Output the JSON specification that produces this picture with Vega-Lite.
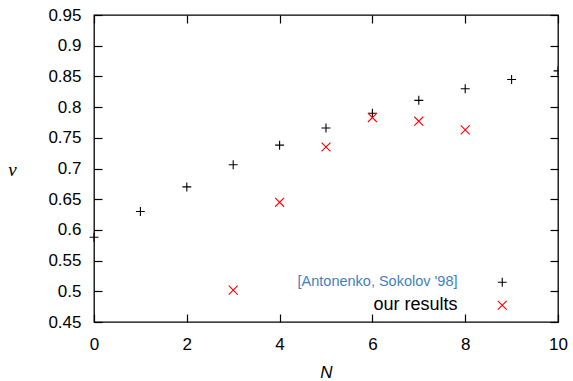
{
  "$schema": "https://vega.github.io/schema/vega-lite/v6.json",
  "width": 464,
  "height": 307,
  "autosize": {"type": "none"},
  "padding": {"left": 94, "top": 15, "right": 15, "bottom": 59},
  "background": "white",
  "config": {
    "view": {"stroke": "black", "strokeWidth": 1.3},
    "font": "Liberation Sans",
    "axis": {"grid": false}
  },
  "data": {
    "values": [
      {"N": 0, "nu": 0.588, "series": "[Antonenko, Sokolov '98]"},
      {"N": 1, "nu": 0.630, "series": "[Antonenko, Sokolov '98]"},
      {"N": 2, "nu": 0.670, "series": "[Antonenko, Sokolov '98]"},
      {"N": 3, "nu": 0.706, "series": "[Antonenko, Sokolov '98]"},
      {"N": 4, "nu": 0.738, "series": "[Antonenko, Sokolov '98]"},
      {"N": 5, "nu": 0.766, "series": "[Antonenko, Sokolov '98]"},
      {"N": 6, "nu": 0.790, "series": "[Antonenko, Sokolov '98]"},
      {"N": 7, "nu": 0.811, "series": "[Antonenko, Sokolov '98]"},
      {"N": 8, "nu": 0.830, "series": "[Antonenko, Sokolov '98]"},
      {"N": 9, "nu": 0.845, "series": "[Antonenko, Sokolov '98]"},
      {"N": 10, "nu": 0.859, "series": "[Antonenko, Sokolov '98]"},
      {"N": 3, "nu": 0.502, "series": "our results"},
      {"N": 4, "nu": 0.645, "series": "our results"},
      {"N": 5, "nu": 0.735, "series": "our results"},
      {"N": 6, "nu": 0.783, "series": "our results"},
      {"N": 7, "nu": 0.777, "series": "our results"},
      {"N": 8, "nu": 0.763, "series": "our results"}
    ]
  },
  "encoding": {
    "x": {"field": "N", "type": "quantitative", "scale": {"domain": [0, 10], "nice": false, "zero": false}},
    "y": {"field": "nu", "type": "quantitative", "scale": {"domain": [0.45, 0.95], "nice": false, "zero": false}}
  },
  "layer": [
    {
      "transform": [{"filter": "datum.N < 10"}],
      "mark": {"type": "point", "filled": false, "strokeWidth": 1.1, "size": 80, "opacity": 1, "clip": false},
      "encoding": {
        "x": {
          "field": "N", "type": "quantitative",
          "axis": {
            "values": [0, 2, 4, 6, 8, 10], "format": "d",
            "labelFontSize": 17, "labelColor": "black", "labelFont": "Liberation Sans",
            "labelFlush": false, "labelDx": 3,
            "tickSize": -8, "tickColor": "black", "tickWidth": 1.2, "domain": false,
            "labelPadding": 22,
            "title": "N", "titleFont": "Liberation Sans", "titleFontStyle": "italic",
            "titleFontWeight": "normal", "titleFontSize": 17, "titleColor": "black",
            "titleY": 50, "titleBaseline": "middle"
          }
        },
        "y": {
          "field": "nu", "type": "quantitative",
          "axis": {
            "values": [0.45, 0.5, 0.55, 0.6, 0.65, 0.7, 0.75, 0.8, 0.85, 0.9, 0.95],
            "format": ".2~f",
            "labelFontSize": 17, "labelColor": "black", "labelFont": "Liberation Sans",
            "labelFlush": false,
            "tickSize": -8, "tickColor": "black", "tickWidth": 1.2, "domain": false,
            "labelPadding": 21,
            "title": "ν", "titleFont": "Liberation Serif", "titleFontStyle": "italic",
            "titleFontWeight": "normal", "titleFontSize": 19, "titleColor": "black",
            "titleAngle": 0, "titleX": -82, "titleY": 154, "titleAlign": "center", "titleBaseline": "middle"
          }
        },
        "color": {
          "field": "series", "type": "nominal",
          "scale": {"domain": ["[Antonenko, Sokolov '98]", "our results"], "range": ["black", "#ff0000"]},
          "legend": {
            "title": null, "orient": "none", "legendX": 401, "legendY": 260,
            "direction": "vertical", "symbolSize": 80, "symbolStrokeWidth": 1.1,
            "labelAlign": "right", "labelOffset": -52,
            "labelFontSize": {"expr": "datum.value === 'our results' ? 18 : 14.5"},
            "labelColor": {"expr": "datum.value === 'our results' ? 'black' : '#3f7fbf'"},
            "labelFont": "Liberation Sans", "rowPadding": 7, "padding": 0,
            "labelLimit": 300
          }
        },
        "shape": {
          "field": "series", "type": "nominal",
          "scale": {"domain": ["[Antonenko, Sokolov '98]", "our results"], "range": ["M-1,0L1,0M0,-1L0,1", "M-1,-1L1,1M-1,1L1,-1"]},
          "legend": {
            "title": null, "orient": "none", "legendX": 401, "legendY": 260,
            "direction": "vertical", "symbolSize": 80, "symbolStrokeWidth": 1.1,
            "labelAlign": "right", "labelOffset": -52,
            "labelFontSize": {"expr": "datum.value === 'our results' ? 18 : 14.5"},
            "labelColor": {"expr": "datum.value === 'our results' ? 'black' : '#3f7fbf'"},
            "labelFont": "Liberation Sans", "rowPadding": 7, "padding": 0,
            "labelLimit": 300
          }
        }
      }
    },
    {
      "transform": [{"filter": "datum.N >= 10"}],
      "mark": {"type": "point", "filled": false, "strokeWidth": 1.1, "size": 80, "opacity": 1, "clip": true},
      "encoding": {
        "x": {"field": "N", "type": "quantitative", "axis": null},
        "y": {"field": "nu", "type": "quantitative", "axis": null},
        "color": {"field": "series", "type": "nominal", "legend": null},
        "shape": {"field": "series", "type": "nominal", "legend": null}
      }
    },
    {
      "mark": {"type": "point", "opacity": 0},
      "encoding": {
        "x": {
          "field": "N", "type": "quantitative",
          "axis": {"orient": "top", "values": [0, 2, 4, 6, 8, 10], "labels": false, "tickSize": -8, "tickColor": "black", "tickWidth": 1.2, "domain": false, "title": null}
        },
        "y": {
          "field": "nu", "type": "quantitative",
          "axis": {"orient": "right", "values": [0.45, 0.5, 0.55, 0.6, 0.65, 0.7, 0.75, 0.8, 0.85, 0.9, 0.95], "labels": false, "tickSize": -8, "tickColor": "black", "tickWidth": 1.2, "domain": false, "title": null}
        }
      }
    }
  ],
  "resolve": {"axis": {"x": "independent", "y": "independent"}}
}
